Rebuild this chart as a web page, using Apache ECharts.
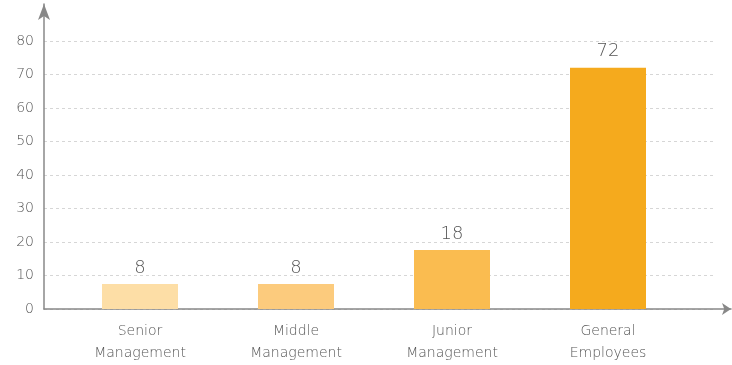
<!DOCTYPE html>
<html>
<head>
<meta charset="utf-8">
<script src="https://cdn.jsdelivr.net/npm/echarts@6/dist/echarts.min.js"></script>
<style>
  html, body { margin: 0; padding: 0; background: #fff; }
  #chart { width: 732px; height: 365px; }
</style>
</head>
<body>
<div id="chart"></div>
<script>
const categories = ['Senior\nManagement', 'Middle\nManagement', 'Junior\nManagement', 'General\nEmployees']
const values = [7.5, 7.5, 17.6, 72]
const barColors = ['#FDDEA6', '#FCCB7D', '#FABC50', '#F5AA1D']
const yTicks = [0, 10, 20, 30, 40, 50, 60, 70, 80]

const chart = echarts.init(document.getElementById('chart'))
const fontFamily = '"DejaVu Sans", sans-serif'
const textColor = '#555'

const option = {
  animation: false,
  grid: [
    // gridlines + y labels
    { left: 44, right: 19, top: 41, bottom: 56 },
    // axis lines with arrows
    { left: 44, right: 1, top: 4, bottom: 56 },
    // bars
    { left: 62, right: 46, top: 41, bottom: 56 }
  ],
  xAxis: [
    { gridIndex: 0, type: 'value', show: false },
    {
      gridIndex: 1, type: 'value', min: 0, max: 1,
      axisLine: {
        show: true, symbol: ['none', 'arrow'], symbolSize: [9, 9],
        lineStyle: { color: '#888', width: 1.5 }
      },
      axisTick: { show: false }, axisLabel: { show: false }, splitLine: { show: false }
    },
    {
      gridIndex: 2, type: 'category', data: categories,
      axisLine: { show: false }, axisTick: { show: false },
      axisLabel: {
        color: textColor, fontSize: 14, fontFamily: fontFamily, fontWeight: 200,
        lineHeight: 22, margin: 11
      }
    }
  ],
  yAxis: [
    {
      gridIndex: 0, type: 'value', min: 0, max: yTicks[yTicks.length - 1], interval: 10,
      axisLine: { show: false }, axisTick: { show: false },
      axisLabel: { color: textColor, fontSize: 14, fontFamily: fontFamily, fontWeight: 200, margin: 10 },
      splitLine: { lineStyle: { color: '#d6d6d6', type: [3, 3] } }
    },
    {
      gridIndex: 1, type: 'value', min: 0, max: 1,
      axisLine: {
        show: true, symbol: ['none', 'arrow'], symbolSize: [9, 16],
        lineStyle: { color: '#888', width: 1.5 }
      },
      axisTick: { show: false }, axisLabel: { show: false }, splitLine: { show: false }
    },
    {
      gridIndex: 2, type: 'value', min: 0, max: 80, show: false
    }
  ],
  series: [
    {
      type: 'bar',
      xAxisIndex: 2,
      yAxisIndex: 2,
      barWidth: 76,
      data: values.map((v, i) => ({ value: v, itemStyle: { color: barColors[i] } })),
      label: {
        show: true,
        position: 'top',
        distance: 7,
        color: textColor,
        fontSize: 18,
        fontFamily: fontFamily,
        fontWeight: 200,
        formatter: p => Math.round(p.value)
      }
    }
  ]
}

chart.setOption(option)
</script>
</body>
</html>
